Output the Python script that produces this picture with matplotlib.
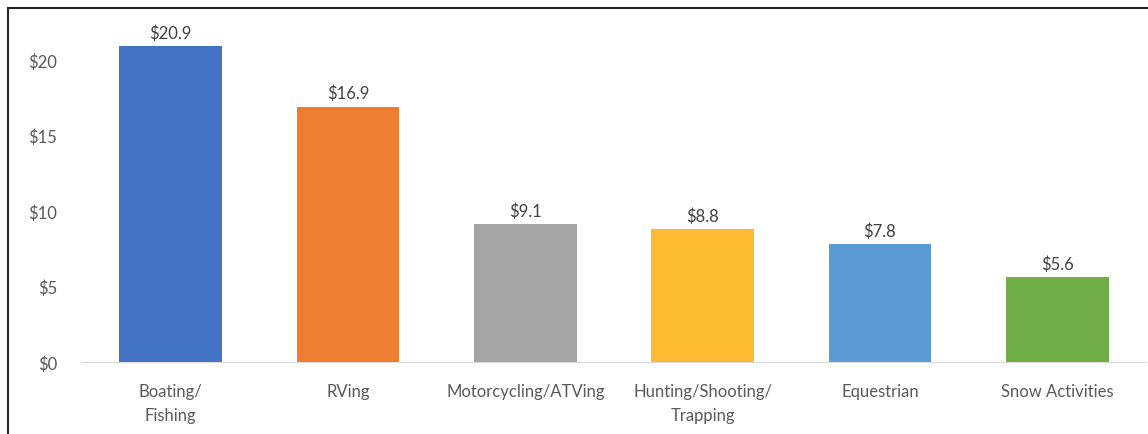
import matplotlib.pyplot as plt
from matplotlib.patches import Rectangle

# spending by activity, billions of dollars
categories = ['Boating/\nFishing', 'RVing', 'Motorcycling/ATVing',
              'Hunting/Shooting/\nTrapping', 'Equestrian', 'Snow Activities']
values = [20.9, 16.9, 9.1, 8.8, 7.8, 5.6]
colors = ['#4472C4', '#ED7D31', '#A5A5A5', '#FBBC33', '#5B9BD5', '#70AD47']
yticks = [0, 5, 10, 15, 20]


def main():
	plt.rcParams['font.family'] = ['Lato', 'DejaVu Sans']
	text_color = '#595959'

	fig = plt.figure(figsize=(11.48, 4.35), dpi=100)
	ax = fig.add_axes([82/1148, 72/435, 1064/1148, 340/435])

	x = range(len(categories))
	ax.bar(x, values, width=0.58, color=colors)
	for i, v in zip(x, values):
		ax.text(i, v + 0.35, '${:.1f}'.format(v), ha='center', va='bottom',
				fontsize=12, color='#404040')

	ax.set_xlim(-0.5, len(categories) - 0.5)
	ax.set_ylim(0, 22.5)
	ax.set_yticks(yticks)
	ax.set_yticklabels(['${}'.format(t) for t in yticks])
	ax.set_xticks(list(x))
	ax.set_xticklabels(categories, linespacing=1.65)
	ax.tick_params(axis='both', length=0, labelsize=12, colors=text_color)
	ax.tick_params(axis='y', pad=18)
	ax.tick_params(axis='x', pad=15)
	for side in ['top', 'right', 'left']:
		ax.spines[side].set_visible(False)
	ax.spines['bottom'].set_color('#D9D9D9')

	# frame around the chart (left and top edges visible)
	fig.add_artist(Rectangle((8/1148, -0.1), 1.2, (435 - 9)/435 + 0.1,
							 transform=fig.transFigure, fill=False,
							 edgecolor='#262626', linewidth=1.5))

	fig.savefig('out.png', dpi=100)


if __name__ == "__main__":
	main()
